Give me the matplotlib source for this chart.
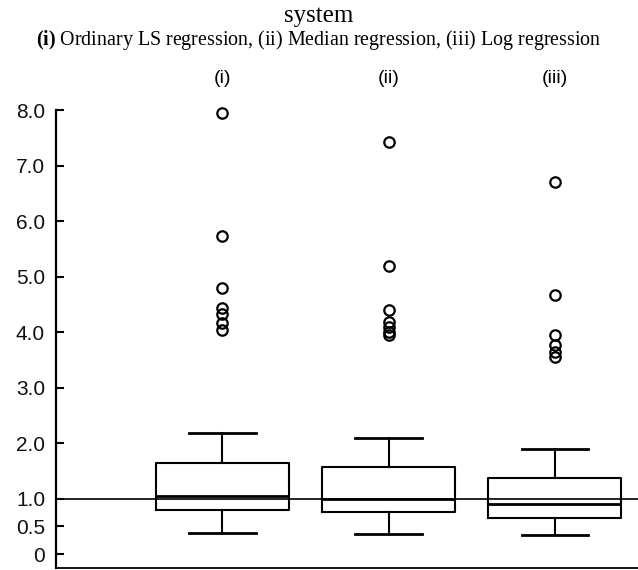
import matplotlib
matplotlib.use('Agg')
import matplotlib.pyplot as plt

plt.rcParams['mathtext.fontset'] = 'custom'
plt.rcParams['mathtext.rm'] = 'Liberation Serif'
plt.rcParams['mathtext.bf'] = 'Liberation Serif:bold'

# --- data ---
labels = ['(i)', '(ii)', '(iii)']
medians = [1.05, 1.00, 0.90]
q1 = [0.80, 0.76, 0.65]
q3 = [1.64, 1.57, 1.37]
whis_lo = [0.38, 0.36, 0.34]
whis_hi = [2.18, 2.09, 1.89]
outliers = [
    [7.95, 5.73, 4.80, 4.43, 4.33, 4.16, 4.03],
    [7.42, 5.20, 4.40, 4.18, 4.09, 4.00, 3.95],
    [6.70, 4.67, 3.95, 3.77, 3.64, 3.55],
]
ytick_vals = [0, 0.5, 1.0, 2.0, 3.0, 4.0, 5.0, 6.0, 7.0, 8.0]
ytick_text = ['0', '0.5', '1.0', '2.0', '3.0', '4.0', '5.0', '6.0', '7.0', '8.0']

title = 'system'
subtitle = r'$\mathbf{(i)}$ Ordinary LS regression, (ii) Median regression, (iii) Log regression'


def build_stats():
    stats = []
    for i in range(len(labels)):
        stats.append(dict(med=medians[i], q1=q1[i], q3=q3[i],
                          whislo=whis_lo[i], whishi=whis_hi[i],
                          fliers=outliers[i], label=labels[i]))
    return stats


fig = plt.figure(figsize=(6.38, 5.70), dpi=100)
ax = fig.add_axes([0.088, 0.0035, 0.912, 0.8325])

pos = [1, 2, 3]
ax.bxp(build_stats(), positions=pos, widths=0.80, showfliers=True,
       boxprops=dict(color='black', linewidth=1.5),
       medianprops=dict(color='black', linewidth=2.0),
       whiskerprops=dict(color='black', linewidth=1.5),
       capprops=dict(color='black', linewidth=2.0),
       capwidths=0.40,
       flierprops=dict(marker='o', markersize=7.5, markerfacecolor='none',
                       markeredgecolor='black', markeredgewidth=1.6))

ax.axhline(1.0, color='black', linewidth=1.2, zorder=1)

ax.set_xlim(0, 3.5)
ax.set_ylim(-0.25, 8.3)

ax.set_yticks(ytick_vals, ytick_text)
ax.tick_params(axis='y', direction='in', length=6, width=1.5,
               labelsize=15, pad=8)
for t in ax.get_yticklabels():
    t.set_family('Liberation Sans')
    t.set_color('#111111')

# group labels on top
ax.xaxis.tick_top()
ax.set_xticks(pos, labels)
ax.tick_params(axis='x', length=0, pad=5, labelsize=14)
for t in ax.get_xticklabels():
    t.set_family(['Liberation Sans Narrow', 'Liberation Sans'])

ax.spines['top'].set_visible(False)
ax.spines['right'].set_visible(False)
ax.spines['left'].set_linewidth(1.6)
ax.spines['left'].set_bounds(-0.25, 8.0)
ax.spines['bottom'].set_linewidth(1.3)

fig.text(0.5, 0.972, title, ha='center', va='center',
         fontsize=18, family='Liberation Serif')
fig.text(0.5, 0.929, subtitle, ha='center', va='center',
         fontsize=14.4, family='Liberation Serif')

fig.savefig('out.png', dpi=100)
